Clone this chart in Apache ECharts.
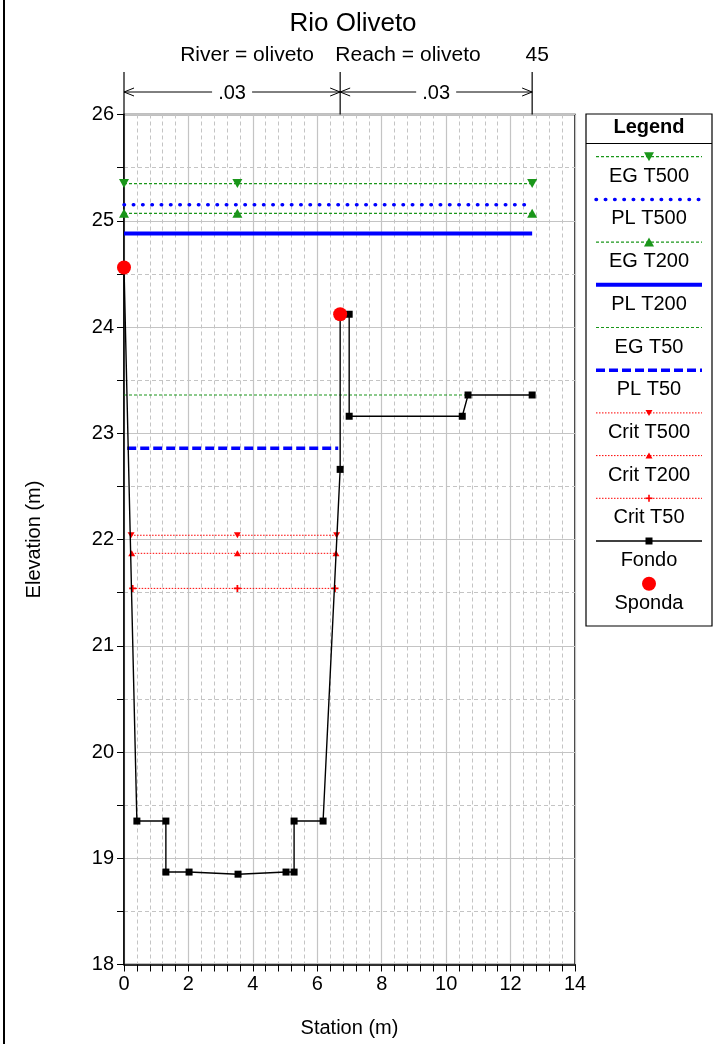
<!DOCTYPE html>
<html>
<head>
<meta charset="utf-8">
<title>Rio Oliveto</title>
<script src="https://cdn.jsdelivr.net/npm/echarts@6/dist/echarts.min.js"></script>
<style>
  html, body { margin: 0; padding: 0; background: #fff; }
  #chart { width: 716px; height: 1044px; }
</style>
</head>
<body>
<div id="chart"></div>
<script>
// ---- dati sezione (station m, elevation m) ----
const fondo = [
  [0, 24.56], [0.4, 19.35], [1.3, 19.35], [1.3, 18.87], [2.02, 18.87],
  [3.54, 18.85], [5.03, 18.87], [5.28, 18.87], [5.28, 19.35], [6.18, 19.35],
  [6.71, 22.66], [6.71, 24.12], [6.99, 24.12], [6.99, 23.16], [10.5, 23.16],
  [10.68, 23.36], [12.67, 23.36]
]
const sponda = [[0, 24.56], [6.71, 24.12]]

const egT500 = [[0, 25.35], [3.52, 25.35], [12.67, 25.35]]
const plT500 = [[0, 25.15], [12.67, 25.15]]
const egT200 = [[0, 25.07], [3.52, 25.07], [12.67, 25.07]]
const plT200 = [[0, 24.88], [12.67, 24.88]]
const egT50 = [[0, 23.36], [10.6, 23.36]]
const plT50 = [[0.1, 22.86], [6.65, 22.86]]
const critT500 = [[0.22, 22.04], [3.52, 22.04], [6.6, 22.04]]
const critT200 = [[0.24, 21.87], [3.52, 21.87], [6.58, 21.87]]
const critT50 = [[0.27, 21.54], [3.52, 21.54], [6.55, 21.54]]

// scabrezza di Manning: limiti delle zone e valori
const nStations = [0, 6.71, 12.67]
const nValues = ['.03', '.03']
const sectionLabel = '45'
const headerLabels = ['River = oliveto', 'Reach = oliveto']

// assi
const xRange = [0, 14]
const yRange = [18, 26]

const FONT = '"Liberation Sans", Arial, sans-serif'
const GREEN = '#1a961a'
const BLUE = '#0000ff'
const RED = '#ff0000'

const plusPath = 'path://M3,0H5V3H8V5H5V8H3V5H0V3H3Z'

const series = [
  { name: 'EG T500', data: egT500, color: GREEN, width: 1.2, dash: [3, 2], symbol: 'triangle', size: [10, 9], rotate: 180 },
  { name: 'PL T500', data: plT500, color: BLUE, width: 3.5, dash: [0.5, 8.8], cap: 'round', symbol: 'none' },
  { name: 'EG T200', data: egT200, color: GREEN, width: 1.2, dash: [3, 2], symbol: 'triangle', size: [10, 9], rotate: 0 },
  { name: 'PL T200', data: plT200, color: BLUE, width: 4, dash: 'solid', symbol: 'none' },
  { name: 'EG T50', data: egT50, color: GREEN, width: 1.2, dash: [3, 2], symbol: 'none' },
  { name: 'PL T50', data: plT50, color: BLUE, width: 3.5, dash: [9, 4], symbol: 'none' },
  { name: 'Crit T500', data: critT500, color: RED, width: 1, dash: [1.5, 1.5], symbol: 'triangle', size: [7, 6], rotate: 180 },
  { name: 'Crit T200', data: critT200, color: RED, width: 1, dash: [1.5, 1.5], symbol: 'triangle', size: [7, 6], rotate: 0 },
  { name: 'Crit T50', data: critT50, color: RED, width: 1, dash: [1.5, 1.5], symbol: plusPath, size: 7, rotate: 0 },
  { name: 'Fondo', data: fondo, color: '#000', width: 1.4, dash: 'solid', symbol: 'rect', size: 7, rotate: 0 },
  { name: 'Sponda', data: sponda, color: RED, scatter: true, symbol: 'circle', size: 14 }
]

const chart = echarts.init(document.getElementById('chart'), null, { renderer: 'canvas' })

const gridLine = { color: '#c4c4c4', width: 1.2 }
const minorLine = { color: '#c4c4c4', width: 1, type: [4, 3] }

const option = {
  animation: false,
  backgroundColor: '#fff',
  textStyle: { fontFamily: FONT },
  grid: { left: 124, right: 141, top: 114.5, bottom: 79.5, show: true, borderColor: '#000', borderWidth: 1.5, backgroundColor: 'transparent' },
  xAxis: {
    type: 'value', min: xRange[0], max: xRange[1], interval: 2,
    name: 'Station (m)', nameLocation: 'middle', nameGap: 54,
    nameTextStyle: { fontSize: 20, color: '#000', fontFamily: FONT },
    axisLine: { onZero: false, lineStyle: { color: '#000', width: 1.5 } },
    axisTick: { length: 7, lineStyle: { color: '#000' } },
    minorTick: { show: true, splitNumber: 5, length: 7, lineStyle: { color: '#000' } },
    axisLabel: { fontSize: 20, color: '#000', margin: 10, fontFamily: FONT },
    splitLine: { show: true, lineStyle: gridLine },
    minorSplitLine: { show: true, lineStyle: minorLine }
  },
  yAxis: {
    type: 'value', min: yRange[0], max: yRange[1], interval: 1,
    name: 'Elevation (m)', nameLocation: 'middle', nameGap: 80,
    nameTextStyle: { fontSize: 20, color: '#000', fontFamily: FONT },
    axisLine: { onZero: false, lineStyle: { color: '#000', width: 1.5 } },
    axisTick: { length: 7, lineStyle: { color: '#000' } },
    minorTick: { show: true, splitNumber: 2, length: 7, lineStyle: { color: '#000' } },
    axisLabel: { fontSize: 20, color: '#000', margin: 10, fontFamily: FONT },
    splitLine: { show: true, lineStyle: gridLine },
    minorSplitLine: { show: true, lineStyle: minorLine }
  },
  series: series.map((s, i) => {
    if (s.scatter) {
      return { name: s.name, type: 'scatter', data: s.data, symbol: s.symbol, symbolSize: s.size, itemStyle: { color: s.color, opacity: 1 }, z: 10 }
    }
    return {
      name: s.name, type: 'line', data: s.data, z: 3 + i * 0.1,
      symbol: s.symbol, symbolSize: s.size, symbolRotate: s.rotate, showSymbol: s.symbol !== 'none',
      itemStyle: { color: s.color, opacity: 1 },
      lineStyle: { color: s.color, width: s.width, type: s.dash, cap: s.cap || 'butt', opacity: 1 }
    }
  })
}

chart.setOption(option)

// ---- elementi grafici: titolo, zone di Manning, legenda ----
const toPx = (x, y) => chart.convertToPixel({ gridIndex: 0 }, [x, y])
const graphics = []

// bordo finestra a sinistra
graphics.push({ type: 'rect', shape: { x: 3, y: 0, width: 2, height: 1044 }, style: { fill: '#000' } })

graphics.push({ type: 'text', x: 353, y: 24, style: { text: 'Rio Oliveto', font: '26px ' + FONT, fill: '#000', align: 'center', verticalAlign: 'middle' } })
graphics.push({ type: 'text', x: 247, y: 55, style: { text: headerLabels[0], font: '21px ' + FONT, fill: '#000', align: 'center', verticalAlign: 'middle' } })
graphics.push({ type: 'text', x: 408, y: 55, style: { text: headerLabels[1], font: '21px ' + FONT, fill: '#000', align: 'center', verticalAlign: 'middle' } })

const topY = toPx(0, yRange[1])[1]
const arrowY = 92
const stPx = nStations.map((s) => toPx(s, yRange[1])[0])
graphics.push({ type: 'text', x: stPx[stPx.length - 1] + 5, y: 55, style: { text: sectionLabel, font: '21px ' + FONT, fill: '#000', align: 'center', verticalAlign: 'middle' } })

stPx.forEach((x) => {
  graphics.push({ type: 'line', shape: { x1: x, y1: 72, x2: x, y2: topY }, style: { stroke: '#000', lineWidth: 1.2 } })
})
const arrowHead = (x, dir) => ({
  type: 'polyline',
  shape: { points: [[x + dir * 10, arrowY - 4], [x, arrowY], [x + dir * 10, arrowY + 4]] },
  style: { stroke: '#000', lineWidth: 1, fill: null }
})
nValues.forEach((v, i) => {
  const a = stPx[i]
  const b = stPx[i + 1]
  const c = (a + b) / 2
  graphics.push({ type: 'line', shape: { x1: a, y1: arrowY, x2: c - 20, y2: arrowY }, style: { stroke: '#000', lineWidth: 1 } })
  graphics.push({ type: 'line', shape: { x1: c + 20, y1: arrowY, x2: b, y2: arrowY }, style: { stroke: '#000', lineWidth: 1 } })
  graphics.push(arrowHead(a, 1))
  graphics.push(arrowHead(b, -1))
  graphics.push({ type: 'text', x: c, y: arrowY + 1, style: { text: v, font: '20px ' + FONT, fill: '#000', align: 'center', verticalAlign: 'middle' } })
})

// legenda
const lgX = 586, lgY = 114, lgW = 126, lgH = 512
graphics.push({ type: 'rect', shape: { x: lgX, y: lgY, width: lgW, height: lgH }, style: { fill: '#fff', stroke: '#000', lineWidth: 1.2 }, z: 20 })
graphics.push({ type: 'text', x: lgX + lgW / 2, y: 127, style: { text: 'Legend', font: 'bold 20px ' + FONT, fill: '#000', align: 'center', verticalAlign: 'middle' }, z: 21 })
graphics.push({ type: 'line', shape: { x1: lgX, y1: 143.5, x2: lgX + lgW, y2: 143.5 }, style: { stroke: '#000', lineWidth: 1 }, z: 21 })

const lgCx = lgX + lgW / 2
series.forEach((s, i) => {
  const ly = 156.7 + 42.7 * i
  if (!s.scatter) {
    graphics.push({
      type: 'line', shape: { x1: 596, y1: ly, x2: 702, y2: ly }, z: 21,
      style: { stroke: s.color, lineWidth: s.width, lineDash: s.dash === 'solid' ? null : s.dash, lineCap: s.cap || 'butt' }
    })
  }
  if (s.symbol === 'triangle') {
    const w = s.size[0] / 2, h = s.size[1] / 2
    const d = s.rotate === 180 ? -1 : 1
    graphics.push({ type: 'polygon', shape: { points: [[lgCx, ly - d * h], [lgCx - w, ly + d * h], [lgCx + w, ly + d * h]] }, style: { fill: s.color }, z: 22 })
  } else if (s.symbol === plusPath) {
    graphics.push({ type: 'rect', shape: { x: lgCx - 3.5, y: ly - 0.8, width: 7, height: 1.6 }, style: { fill: s.color }, z: 22 })
    graphics.push({ type: 'rect', shape: { x: lgCx - 0.8, y: ly - 3.5, width: 1.6, height: 7 }, style: { fill: s.color }, z: 22 })
  } else if (s.symbol === 'rect') {
    graphics.push({ type: 'rect', shape: { x: lgCx - 3.5, y: ly - 3.5, width: 7, height: 7 }, style: { fill: s.color }, z: 22 })
  } else if (s.symbol === 'circle') {
    graphics.push({ type: 'circle', shape: { cx: lgCx, cy: ly, r: 7 }, style: { fill: s.color }, z: 22 })
  }
  graphics.push({ type: 'text', x: lgCx, y: ly + 19.5, style: { text: s.name, font: '20px ' + FONT, fill: '#000', align: 'center', verticalAlign: 'middle' }, z: 22 })
})

chart.setOption({ graphic: graphics })
</script>
</body>
</html>
